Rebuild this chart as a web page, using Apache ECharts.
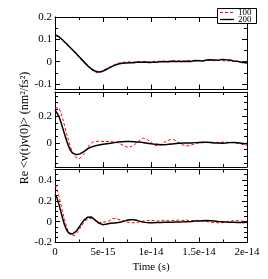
<!DOCTYPE html>
<html><head><meta charset="utf-8">
<script src="https://cdn.jsdelivr.net/npm/echarts@6/dist/echarts.min.js"></script>
<style>html,body{margin:0;padding:0;background:#fff}#c{width:268px;height:279px}</style>
</head><body><div id="c"></div>
<script>
// time grid in fs (1 fs = 1e-15 s), step 0.2 fs
const timeFs = Array.from({length: 101}, (_, i) => +(i * 0.2).toFixed(1));
const xTickValues = [0, 5, 10, 15, 20];
const xTickLabels = ['0', '5e-15', '1e-14', '1.5e-14', '2e-14'];
const seriesNames = ['100', '200'];

// Panel 1
const red1 = [
 0.118, 0.120, 0.110, 0.107, 0.095, 0.091, 0.077, 0.073, 0.060, 0.057,
 0.042, 0.039, 0.024, 0.020, 0.006, 0.002, -0.012, -0.016, -0.029, -0.031,
 -0.043, -0.041, -0.050, -0.046, -0.049, -0.040, -0.041, -0.031, -0.032, -0.022,
 -0.024, -0.013, -0.016, -0.007, -0.011, -0.003, -0.008, -0.002, -0.007, -0.001,
 -0.006, -0.002, -0.007, 0.000, -0.005, -0.001, -0.006, 0.001, -0.004, -0.001,
 -0.005, 0.001, -0.003, 0.002, -0.004, 0.001, -0.002, 0.003, -0.003, 0.002,
 -0.001, 0.004, -0.002, 0.003, 0.000, 0.004, -0.001, 0.003, 0.000, 0.005,
 0.001, 0.004, -0.001, 0.003, 0.001, 0.005, 0.000, 0.004, 0.001, 0.005,
 0.002, 0.006, 0.001, 0.004, 0.000, 0.005, 0.001, 0.004, -0.001, 0.003,
 0.000, 0.003, -0.002, 0.002, -0.003, 0.001, -0.004, -0.001, -0.005, -0.002,
 -0.006];
const black1 = [
 0.121, 0.117, 0.112, 0.105, 0.097, 0.089, 0.080, 0.071, 0.063, 0.054,
 0.045, 0.036, 0.027, 0.018, 0.009, 0.000, -0.009, -0.018, -0.026, -0.033,
 -0.039, -0.043, -0.046, -0.047, -0.045, -0.042, -0.038, -0.034, -0.029, -0.025,
 -0.021, -0.017, -0.014, -0.011, -0.009, -0.007, -0.006, -0.006, -0.004, -0.005,
 -0.003, -0.005, -0.004, -0.002, -0.004, -0.003, -0.005, -0.002, -0.003, -0.004,
 -0.002, -0.003, -0.001, -0.003, -0.002, 0.000, -0.002, -0.001, 0.001, -0.001,
 0.000, 0.002, 0.000, 0.001, 0.003, 0.001, 0.002, 0.000, 0.003, 0.002,
 0.004, 0.001, 0.003, 0.005, 0.002, 0.004, 0.006, 0.003, 0.005, 0.007,
 0.004, 0.008, 0.005, 0.007, 0.009, 0.006, 0.008, 0.010, 0.006, 0.008,
 0.005, 0.007, 0.004, 0.003, 0.001, 0.002, -0.001, -0.003, -0.002, -0.005,
 -0.006];

// Panel 2
const red2 = [
 0.262, 0.274, 0.262, 0.228, 0.182, 0.128, 0.072, 0.020, -0.028, -0.066,
 -0.094, -0.110, -0.118, -0.116, -0.104, -0.084, -0.060, -0.036, -0.014, 0.000,
 0.008, 0.006, 0.012, 0.007, 0.011, 0.006, 0.010, 0.005, 0.011, 0.007,
 0.009, 0.004, 0.006, -0.002, -0.008, -0.016, -0.022, -0.029, -0.033, -0.030,
 -0.026, -0.017, -0.006, 0.006, 0.019, 0.029, 0.036, 0.033, 0.026, 0.014,
 0.003, -0.010, -0.019, -0.025, -0.022, -0.015, -0.005, 0.006, 0.014, 0.020,
 0.024, 0.027, 0.023, 0.016, 0.006, -0.004, -0.012, -0.018, -0.022, -0.020,
 -0.021, -0.016, -0.012, -0.005, -0.002, 0.003, 0.001, 0.005, 0.002, 0.006,
 0.003, 0.001, 0.004, -0.002, 0.003, 0.000, 0.005, 0.002, 0.006, 0.003,
 0.004, 0.000, 0.003, -0.003, 0.001, -0.006, -0.004, -0.010, -0.012, -0.016,
 -0.019];
const black2 = [
 0.246, 0.232, 0.200, 0.158, 0.112, 0.064, 0.018, -0.022, -0.054, -0.074,
 -0.084, -0.088, -0.087, -0.082, -0.074, -0.065, -0.056, -0.044, -0.036, -0.030,
 -0.023, -0.022, -0.015, -0.016, -0.009, -0.010, -0.004, -0.006, 0.000, -0.002,
 0.004, 0.002, 0.008, 0.006, 0.011, 0.009, 0.014, 0.010, 0.015, 0.010,
 0.014, 0.009, 0.012, 0.007, 0.009, 0.004, 0.006, 0.000, 0.002, -0.004,
 -0.002, -0.008, -0.006, -0.011, -0.009, -0.014, -0.010, -0.013, -0.008, -0.011,
 -0.005, -0.008, -0.002, -0.005, 0.000, -0.003, 0.002, -0.001, 0.001, -0.001,
 0.004, -0.001, 0.005, 0.002, 0.005, 0.003, 0.006, 0.004, 0.007, 0.004,
 0.006, 0.003, 0.005, 0.000, 0.002, -0.001, 0.001, -0.002, 0.004, -0.001,
 0.005, 0.002, 0.005, 0.003, 0.006, 0.001, 0.004, -0.002, 0.000, -0.006,
 -0.005];

// Panel 3
const red3 = [
 0.352, 0.318, 0.250, 0.168, 0.088, 0.018, -0.048, -0.098, -0.128, -0.140,
 -0.136, -0.120, -0.096, -0.066, -0.036, -0.010, 0.012, 0.024, 0.032, 0.030,
 0.022, 0.008, -0.004, -0.014, -0.008, -0.016, -0.002, 0.010, 0.004, 0.022,
 0.030, 0.018, 0.028, 0.012, 0.016, 0.002, 0.004, -0.012, -0.006, -0.020,
 -0.012, -0.024, -0.010, -0.020, -0.004, -0.014, 0.006, -0.008, 0.010, -0.004,
 0.012, -0.006, 0.008, -0.010, 0.006, -0.004, 0.014, 0.000, 0.010, -0.006,
 0.008, -0.004, 0.012, 0.002, 0.014, -0.002, 0.010, 0.004, 0.016, 0.000,
 0.010, -0.006, 0.008, -0.002, 0.012, 0.000, 0.006, -0.008, 0.004, -0.012,
 -0.002, -0.020, -0.008, -0.024, -0.010, -0.026, -0.012, -0.022, -0.006, -0.018,
 0.002, -0.012, 0.006, -0.008, 0.010, -0.006, 0.008, -0.010, 0.004, -0.012,
 -0.004];
const black3 = [
 0.262, 0.228, 0.168, 0.098, 0.030, -0.032, -0.078, -0.106, -0.119, -0.120,
 -0.110, -0.092, -0.068, -0.040, -0.012, 0.012, 0.031, 0.043, 0.048, 0.045,
 0.038, 0.014, 0.006, -0.016, -0.017, -0.029, -0.019, -0.023, -0.011, -0.016,
 -0.005, -0.012, -0.001, -0.008, 0.005, 0.000, 0.014, 0.010, 0.024, 0.019,
 0.030, 0.019, 0.025, 0.010, 0.015, 0.000, 0.006, -0.007, 0.001, -0.010,
 -0.001, -0.010, -0.001, -0.009, 0.000, -0.008, 0.001, -0.007, 0.002, -0.006,
 0.003, -0.005, 0.004, -0.004, 0.005, -0.003, 0.008, -0.002, 0.009, 0.000,
 0.011, 0.002, 0.013, 0.005, 0.016, 0.007, 0.018, 0.009, 0.020, 0.010,
 0.020, 0.009, 0.018, 0.006, 0.014, 0.002, 0.010, -0.001, 0.007, -0.004,
 0.005, -0.006, 0.005, -0.007, 0.004, -0.008, 0.003, -0.009, 0.002, -0.009,
 -0.003];

const panelRanges = [[-0.125, 0.2], [-0.18, 0.38], [-0.2, 0.5]];
const panelSteps = [0.1, 0.2, 0.2];
const panelMinorSplits = [2, 4, 4];
const redData = [red1, red2, red3];
const blackData = [black1, black2, black3];
const RED = '#ff0000', BLACK = '#000000';

const FONT = 'Liberation Serif';
const grids = [
  {left: 55, right: 21, top: 17, height: 72.5},
  {left: 55, right: 21, top: 92, height: 75},
  {left: 55, right: 21, top: 169.5, height: 73}
];
const axLine = {show: true, onZero: false, lineStyle: {color: '#000', width: 1}};
const xAxes = [], yAxes = [], series = [];
// x axes: 0..2 bottom, 3..5 top
for (const pos of ['bottom', 'top']) {
  for (let p = 0; p < 3; p++) {
    xAxes.push({
      type: 'value', gridIndex: p, position: pos, min: 0, max: 20, interval: 5,
      axisLine: axLine,
      axisTick: {show: true, inside: true, length: 5, lineStyle: {color: '#000'}},
      minorTick: {show: true, splitNumber: 2, length: 3, lineStyle: {color: '#000'}},
      splitLine: {show: false},
      axisLabel: {show: p === 2 && pos === 'bottom', margin: 4, color: '#000',
        fontFamily: FONT, fontSize: 11,
        formatter: v => { const k = xTickValues.indexOf(Math.round(v * 1000) / 1000); return k >= 0 ? xTickLabels[k] : ''; }},
      name: (p === 2 && pos === 'bottom') ? 'Time (s)' : '',
      nameLocation: 'middle', nameGap: 19,
      nameTextStyle: {color: '#000', fontFamily: FONT, fontSize: 11}
    });
  }
}
// y axes: 0..2 left, 3..5 right
for (const pos of ['left', 'right']) {
  for (let p = 0; p < 3; p++) {
    const step = panelSteps[p];
    yAxes.push({
      type: 'value', gridIndex: p, position: pos,
      min: panelRanges[p][0], max: panelRanges[p][1],
      minInterval: step, maxInterval: step, splitNumber: 3,
      axisLine: axLine,
      axisTick: {show: true, inside: true, length: 5, lineStyle: {color: '#000'}},
      minorTick: {show: true, splitNumber: panelMinorSplits[p], length: 3, lineStyle: {color: '#000'}},
      splitLine: {show: false},
      axisLabel: {show: pos === 'left', margin: 3, color: '#000', fontFamily: FONT, fontSize: 11,
        formatter: v => {
          const r = v / step;
          if (Math.abs(r - Math.round(r)) > 1e-6) return '';
          return String(+(Math.round(r) * step).toFixed(3));
        }}
    });
  }
}
for (let p = 0; p < 3; p++) {
  series.push({
    name: seriesNames[0], type: 'line', xAxisIndex: p, yAxisIndex: p,
    data: timeFs.map((t, i) => [t, redData[p][i]]),
    symbol: 'none', color: RED, lineStyle: {color: RED, width: 1, type: [3, 2]},
    itemStyle: {color: RED}
  });
  series.push({
    name: seriesNames[1], type: 'line', xAxisIndex: p, yAxisIndex: p,
    data: timeFs.map((t, i) => [t, blackData[p][i]]),
    symbol: 'none', color: BLACK, lineStyle: {color: BLACK, width: 1.5},
    itemStyle: {color: BLACK}
  });
}

const chart = echarts.init(document.getElementById('c'), null, {renderer: 'canvas'});
chart.setOption({
  animation: false,
  backgroundColor: '#fff',
  grid: grids,
  xAxis: xAxes,
  yAxis: yAxes,
  series: series,
  graphic: [
    {type: 'rect', z: 100, shape: {x: 217.5, y: 8.5, width: 39, height: 15},
      style: {fill: '#fff', stroke: '#000', lineWidth: 1}},
    {type: 'line', z: 101, shape: {x1: 220, y1: 12.5, x2: 234, y2: 12.5},
      style: {stroke: RED, lineWidth: 1, lineDash: [3, 2]}},
    {type: 'line', z: 101, shape: {x1: 220, y1: 19.5, x2: 234, y2: 19.5},
      style: {stroke: BLACK, lineWidth: 1.3}},
    {type: 'text', z: 101, x: 238, y: 12.5,
      style: {text: seriesNames[0], fill: '#000', font: '9px "Liberation Serif"', align: 'left', verticalAlign: 'middle'}},
    {type: 'text', z: 101, x: 238, y: 19.5,
      style: {text: seriesNames[1], fill: '#000', font: '9px "Liberation Serif"', align: 'left', verticalAlign: 'middle'}},
    {type: 'text', x: 25, y: 128, rotation: Math.PI / 2, z: 10,
      style: {text: 'Re <v(t)v(0)> (nm²/fs²)', fill: '#000', font: '12px "Liberation Serif"',
        align: 'center', verticalAlign: 'middle'}}
  ]
});
</script></body></html>
